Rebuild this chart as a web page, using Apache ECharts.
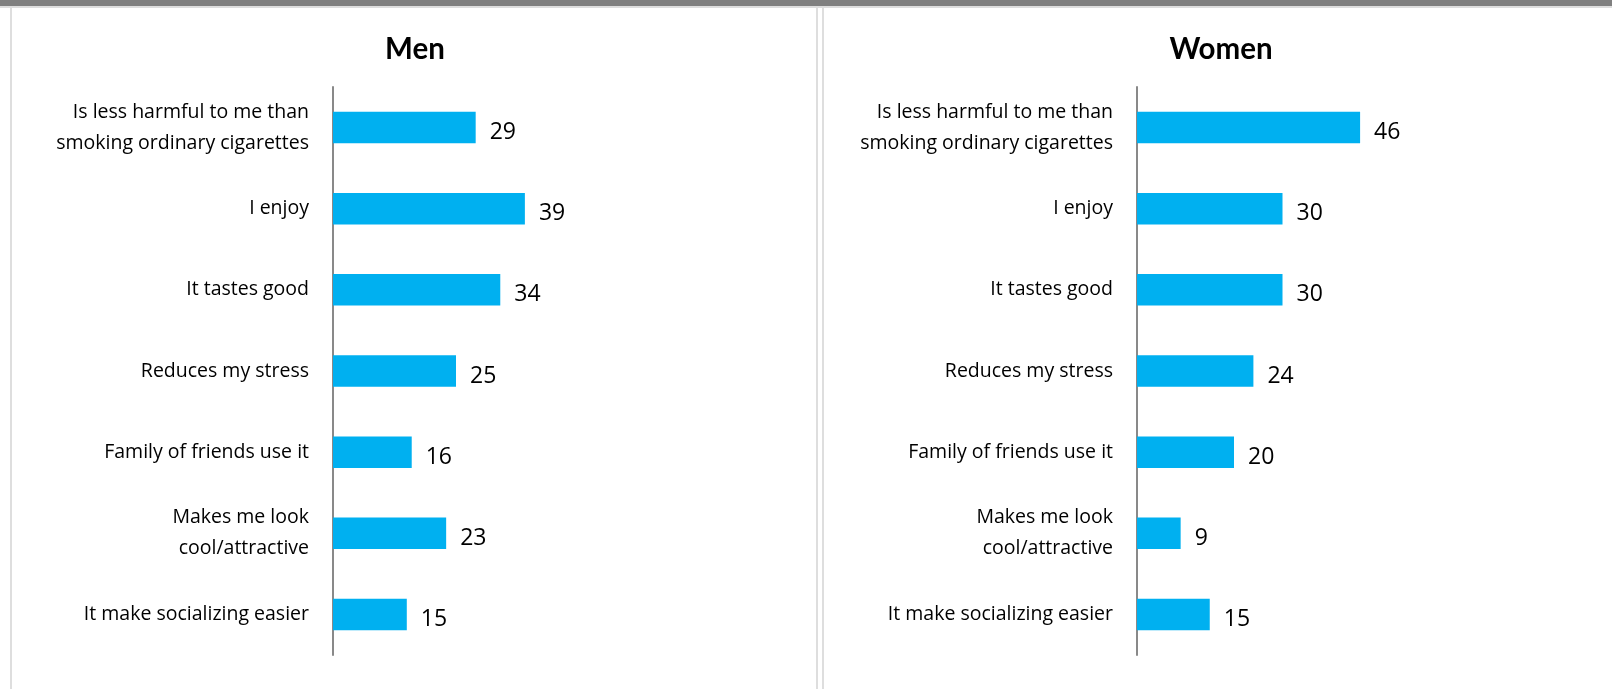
<!DOCTYPE html>
<html>
<head>
<meta charset="utf-8">
<script src="https://cdn.jsdelivr.net/npm/echarts@6/dist/echarts.min.js"></script>
<style>
  html, body { margin: 0; padding: 0; background: #ffffff; }
  #chart { width: 1612px; height: 689px; }
</style>
</head>
<body>
<div id="chart"></div>
<script>
// Reasons for using the product, share (%) by sex
const categories = [
  'Is less harmful to me than\nsmoking ordinary cigarettes',
  'I enjoy',
  'It tastes good',
  'Reduces my stress',
  'Family of friends use it',
  'Makes me look\ncool/attractive',
  'It make socializing easier'
];
const menValues = [29, 39, 34, 25, 16, 23, 15];
const womenValues = [46, 30, 30, 24, 20, 9, 15];
const panelTitles = ['Men', 'Women'];

const LABEL_FONT = '"Open Sans", Lato, sans-serif';
const TITLE_FONT = 'Lato, "Open Sans", sans-serif';
const BAR = '#00B0F0';
const AXIS = '#898989';
const FRAME = '#dedede';

const chart = echarts.init(document.getElementById('chart'), null, { renderer: 'canvas' });

function yAxisFor(gridIndex) {
  return {
    type: 'category',
    gridIndex,
    data: categories,
    inverse: true,
    axisLine: { show: true, lineStyle: { color: AXIS, width: 2 } },
    axisTick: { show: false },
    splitLine: { show: false },
    axisLabel: {
      margin: 24,
      fontFamily: LABEL_FONT,
      fontSize: 19.5,
      lineHeight: 31,
      padding: [3, 0, 0, 0],
      color: '#000000',
      align: 'right'
    }
  };
}

function xAxisFor(gridIndex) {
  return { type: 'value', gridIndex, min: 0, max: 50, show: false };
}

function barSeries(idx, values) {
  return {
    type: 'bar',
    xAxisIndex: idx,
    yAxisIndex: idx,
    data: values,
    barWidth: 31.5,
    itemStyle: { color: BAR },
    label: {
      show: true,
      position: 'right',
      distance: 14,
      offset: [0, 5],
      fontFamily: LABEL_FONT,
      fontSize: 23,
      color: '#000000'
    },
    animation: false
  };
}

chart.setOption({
  animation: false,
  title: [
    { text: panelTitles[0], left: 410, top: 29, textAlign: 'center',
      textStyle: { fontFamily: TITLE_FONT, fontSize: 29.5, fontWeight: 'bold', color: '#000' } },
    { text: panelTitles[1], left: 1216, top: 29, textAlign: 'center',
      textStyle: { fontFamily: TITLE_FONT, fontSize: 29.5, fontWeight: 'bold', color: '#000' } }
  ],
  grid: [
    { left: 333, top: 87, width: 246, height: 568 },
    { left: 1137, top: 87, width: 242.5, height: 568 }
  ],
  xAxis: [xAxisFor(0), xAxisFor(1)],
  yAxis: [yAxisFor(0), yAxisFor(1)],
  series: [barSeries(0, menValues), barSeries(1, womenValues)],
  graphic: [
    { type: 'rect', shape: { x: 0, y: 0, width: 1612, height: 6 }, style: { fill: '#808080' }, silent: true },
    { type: 'rect', shape: { x: 0, y: 6, width: 1612, height: 2 }, style: { fill: FRAME }, silent: true },
    { type: 'rect', shape: { x: 10, y: 8, width: 2, height: 681 }, style: { fill: FRAME }, silent: true },
    { type: 'rect', shape: { x: 816, y: 8, width: 2, height: 681 }, style: { fill: FRAME }, silent: true },
    { type: 'rect', shape: { x: 822, y: 8, width: 2, height: 681 }, style: { fill: FRAME }, silent: true }
  ]
});
</script>
</body>
</html>
